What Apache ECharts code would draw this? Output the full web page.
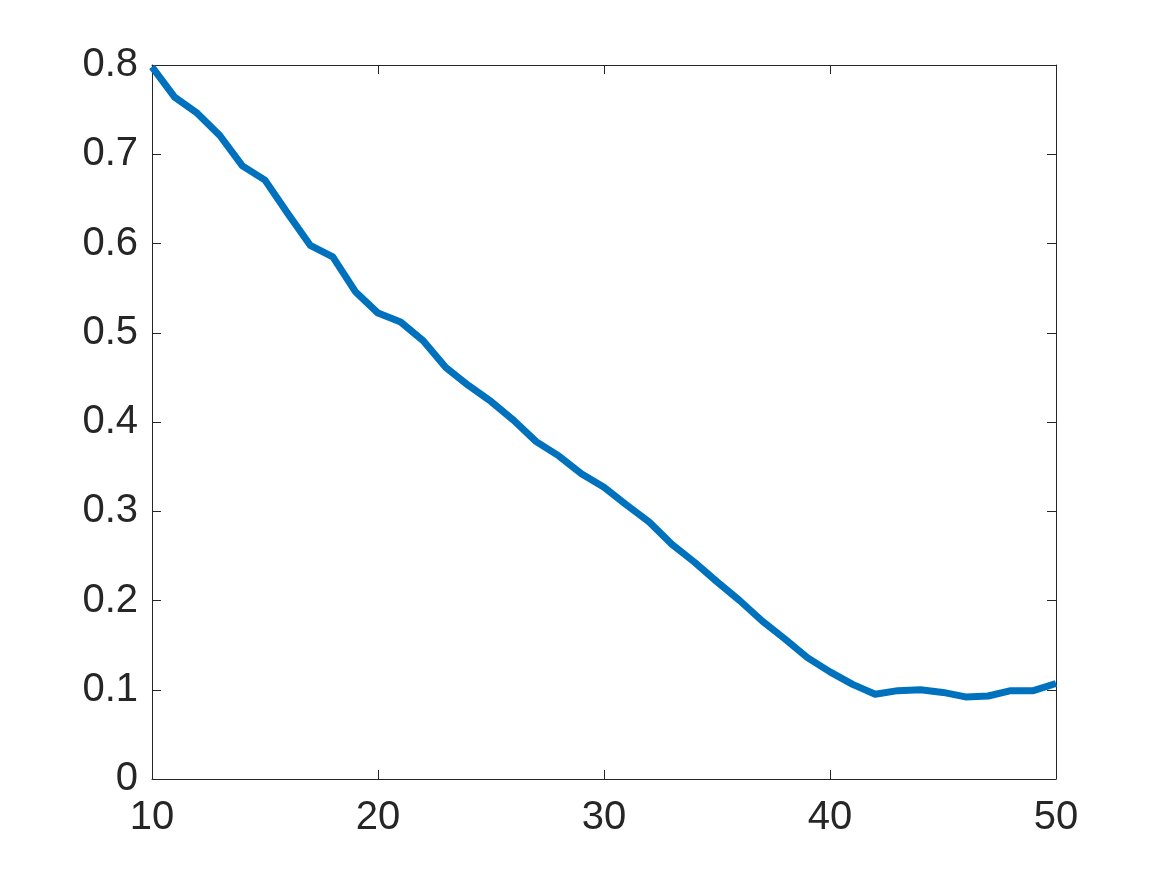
<!DOCTYPE html>
<html>
<head>
<meta charset="utf-8">
<title>line</title>
<script src="https://cdn.jsdelivr.net/npm/echarts@6/dist/echarts.min.js"></script>
<style>
  html, body { margin: 0; padding: 0; background: #fff; }
  #chart { width: 1167px; height: 875px; }
</style>
</head>
<body>
<div id="chart"></div>
<script>
// x positions 10..50
var xValues = [10, 11, 12, 13, 14, 15, 16, 17, 18, 19, 20, 21, 22, 23, 24, 25, 26, 27, 28, 29, 30,
  31, 32, 33, 34, 35, 36, 37, 38, 39, 40, 41, 42, 43, 44, 45, 46, 47, 48, 49, 50];
var yValues = [0.798, 0.764, 0.746, 0.721, 0.687, 0.671, 0.634, 0.598, 0.585, 0.546, 0.522,
  0.512, 0.491, 0.461, 0.441, 0.423, 0.402, 0.378, 0.362, 0.342, 0.327,
  0.307, 0.288, 0.263, 0.243, 0.221, 0.200, 0.177, 0.157, 0.136, 0.120,
  0.106, 0.095, 0.099, 0.100, 0.097, 0.092, 0.093, 0.099, 0.099, 0.107];
var xTicks = [10, 20, 30, 40, 50];
var yTicks = ["0", "0.1", "0.2", "0.3", "0.4", "0.5", "0.6", "0.7", "0.8"];

var axisColor = "#262626";
var chart = echarts.init(document.getElementById("chart"));

var common = {
  axisLine: { show: true, onZero: false, lineStyle: { color: axisColor, width: 1 } },
  axisTick: { show: true, inside: true, length: 9, lineStyle: { color: axisColor, width: 1 } },
  splitLine: { show: false }
};

chart.setOption({
  animation: false,
  grid: { left: 152, top: 65, right: 111, bottom: 96, containLabel: false },
  xAxis: [
    Object.assign({
      type: "value", min: 10, max: 50, interval: 10, position: "bottom",
      axisLabel: {
        color: axisColor, fontSize: 40, fontFamily: "Liberation Sans, Arial, sans-serif",
        margin: 19, showMinLabel: true, showMaxLabel: true,
        formatter: function (v) { return xTicks.indexOf(v) >= 0 ? String(v) : ""; }
      }
    }, common),
    Object.assign({
      type: "value", min: 10, max: 50, interval: 10, position: "top",
      axisLabel: { show: false }
    }, common)
  ],
  yAxis: [
    Object.assign({
      type: "value", min: 0, max: 0.8, interval: 0.1, position: "left",
      axisLabel: {
        color: axisColor, fontSize: 40, fontFamily: "Liberation Sans, Arial, sans-serif",
        margin: 14, padding: [5, 0, 0, 0],
        formatter: function (v) { return yTicks[Math.round(v * 10)]; }
      }
    }, common),
    Object.assign({
      type: "value", min: 0, max: 0.8, interval: 0.1, position: "right",
      axisLabel: { show: false }
    }, common)
  ],
  series: [{
    type: "line",
    data: xValues.map(function (x, i) { return [x, yValues[i]]; }),
    showSymbol: false,
    lineStyle: { color: "#0072BD", width: 7, join: "round" },
    itemStyle: { color: "#0072BD" },
    clip: false
  }]
});
</script>
</body>
</html>
